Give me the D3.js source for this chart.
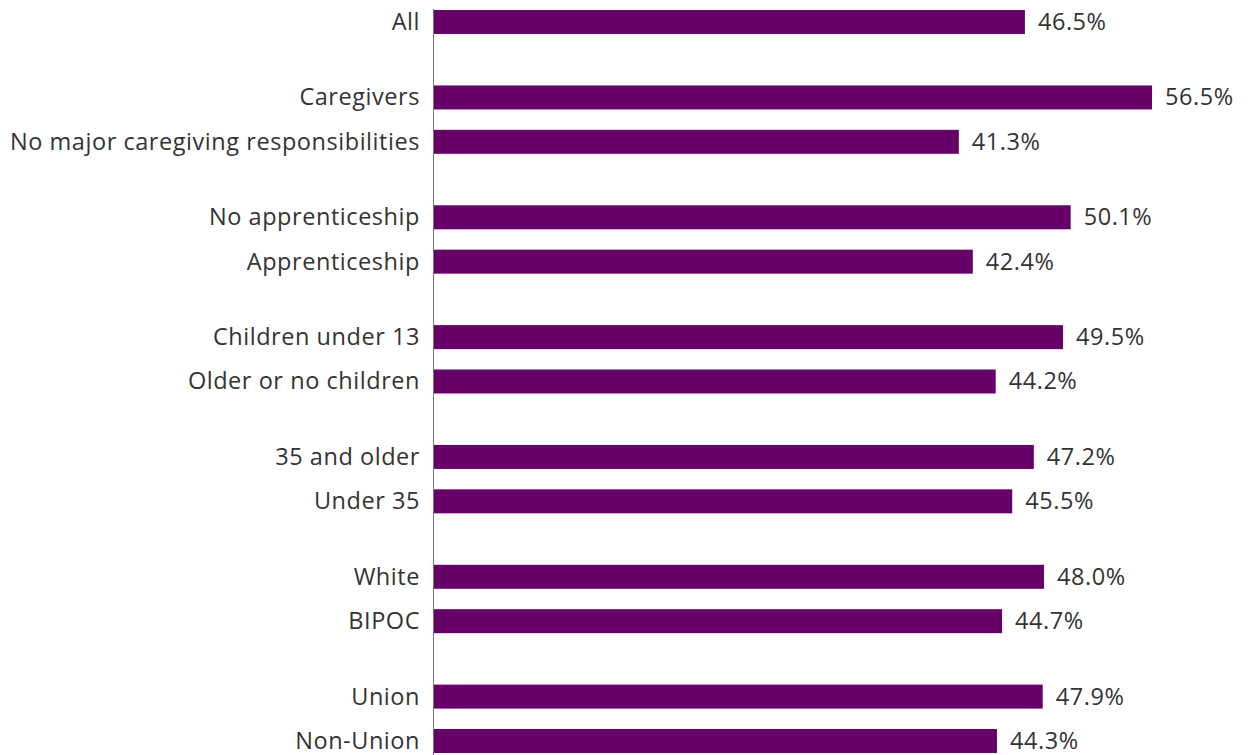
<!DOCTYPE html>
<html><head><meta charset="utf-8">
<script src="https://cdn.jsdelivr.net/npm/d3@7"></script>
<style>body{margin:0;background:#fff}svg{display:block}</style>
</head><body>
<svg id="c" width="1248" height="755"></svg>
<script>
const groups = [
  ["All"],
  ["Caregivers", "No major caregiving responsibilities"],
  ["No apprenticeship", "Apprenticeship"],
  ["Children under 13", "Older or no children"],
  ["35 and older", "Under 35"],
  ["White", "BIPOC"],
  ["Union", "Non-Union"]
];
const categories = groups.flat();
const values = [46.5, 56.5, 41.3, 50.1, 42.4, 49.5, 44.2, 47.2, 45.5, 48.0, 44.7, 47.9, 44.3];

const svg = d3.select("#c");
const x0 = 434;
const x = d3.scaleLinear().domain([0, 56.5]).range([x0, 1152]);

// slot positions: within-group step 1, between-group step 1.7
const slots = [];
let s = 0;
groups.forEach((g, gi) => {
  g.forEach((c, ci) => {
    if (gi > 0 || ci > 0) s += (ci === 0) ? 1.7 : 1;
    slots.push(s);
  });
});
const y = d3.scaleLinear().domain([0, s]).range([22, 741]);
const bh = 24;
const data = categories.map((c, i) => ({c, v: values[i], y: y(slots[i])}));

svg.append("line").attr("x1", x0 - 0.5).attr("x2", x0 - 0.5)
  .attr("y1", 9).attr("y2", 755).attr("stroke", "#777").attr("stroke-width", 1);

svg.selectAll("rect.bar").data(data).join("rect").attr("class", "bar")
  .attr("x", x(0)).attr("y", d => d.y - bh / 2)
  .attr("width", d => x(d.v) - x(0)).attr("height", bh)
  .attr("fill", "#68006a");

const font = "'Open Sans', sans-serif";
svg.selectAll("text.cat").data(data).join("text").attr("class", "cat")
  .attr("x", 420).attr("y", d => d.y).attr("dy", "0.34em")
  .attr("text-anchor", "end")
  .style("font-family", font).style("font-size", "23.5px").style("letter-spacing", "0.55px").attr("fill", "#333")
  .text(d => d.c);

svg.selectAll("text.val").data(data).join("text").attr("class", "val")
  .attr("x", d => x(d.v) + 13).attr("y", d => d.y).attr("dy", "0.34em")
  .style("font-family", font).style("font-size", "23.5px").style("letter-spacing", "0.55px").attr("fill", "#333")
  .text(d => d.v.toFixed(1) + "%");
</script>
</body></html>
